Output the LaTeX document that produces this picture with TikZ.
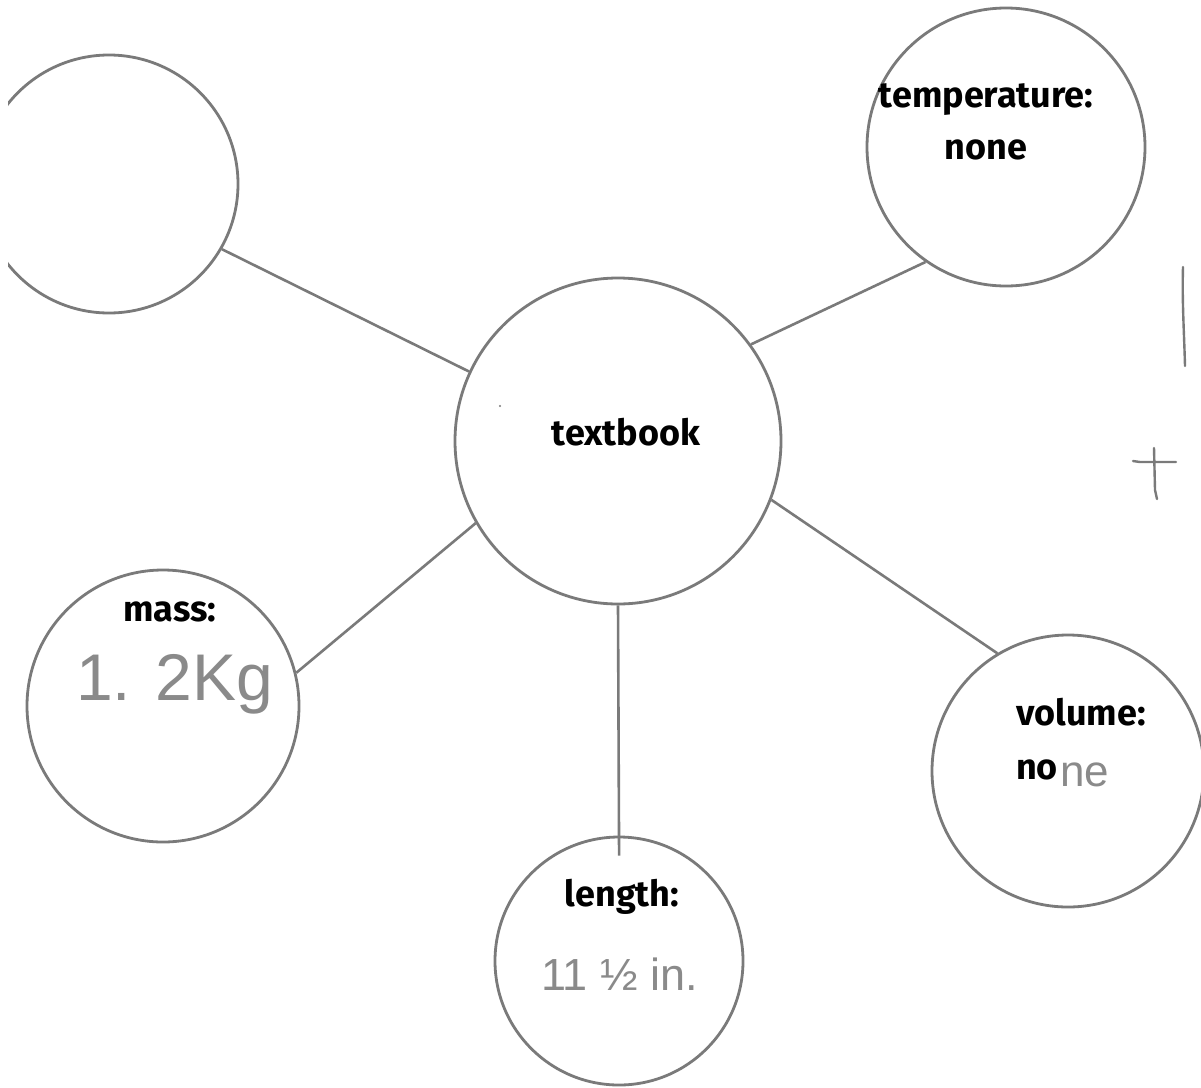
\documentclass[tikz,border=0pt]{standalone}
\usepackage{fontspec}
\setmainfont{Fira Sans}
\newfontfamily\hand{Liberation Sans}
\definecolor{ink}{HTML}{7A7A7A}
\definecolor{pencil}{HTML}{8A8A8A}
\begin{document}
\begin{tikzpicture}[x=1pt,y=-1pt,
  bub/.style={circle,draw=ink,line width=2.8pt,inner sep=0pt},
  link/.style={draw=ink,line width=2.6pt},
  stroke/.style={draw=ink,line width=2.4pt,line cap=round},
  lab/.style={font=\fontsize{36}{40}\selectfont\bfseries,text=black,inner sep=0pt},
  hw/.style={font=\hand,text=pencil,inner sep=0pt}]
\useasboundingbox (0,0) rectangle (1201,1087);
\fill[white] (0,0) rectangle (1201,1087);
\clip (8,0) rectangle (1201,1087);
% bubbles
\node[bub,minimum size=258pt] (tl) at (109,184) {};
\node[bub,minimum size=278pt] (tr) at (1006,147) {};
\node[bub,minimum size=326pt] (c) at (618,441) {};
\node[bub,minimum size=272pt] (ms) at (163,706) {};
\node[bub,minimum size=248pt] (ln) at (619,961) {};
\node[bub,minimum size=272pt] (vl) at (1068,771) {};
% connectors
\draw[link] (tl.-30.5) -- (c.155.7);
\draw[link] (c.36.3) -- (tr.235);
\draw[link] (c.210.8) -- (ms.14);
\draw[link,shorten >=-20pt] (c.270.4) -- (ln.90);
\draw[link] (c.-21.3) -- (vl.121.8);
% labels
\node[lab] (tt) at (986,100) {temperature:};
\node[lab] (tn) at (986,150) {none};
\node[lab] (tb) at (626,432) {textbook};
\node[lab] (mm) at (170,612) {mass:};
\node[hw,anchor=base west,font=\hand\fontsize{66}{72}\selectfont] (mv) at (76,700) {1. 2Kg};
\node[lab] (ll) at (622,897) {length:};
\node[hw,anchor=base west,font=\hand\fontsize{45}{50}\selectfont] (lv) at (541,990) {11 ½ in.};
\node[lab] (vv) at (1081,712) {volume:};
\node[lab,anchor=base west] (vn) at (1016,779) {no};
\node[hw,anchor=base west,font=\hand\fontsize{44}{48}\selectfont] (vn2) at (1060,786) {ne};
% stray marks
\draw[stroke] (1183,267) .. controls (1182,300) and (1184,330) .. (1185,366);
\draw[stroke] (1154,448) -- (1155,490) -- (1157,499);
\draw[stroke] (1133,461) -- (1140,462) -- (1176,462);
\fill[ink] (500,406) circle (1.2pt);
\end{tikzpicture}
\end{document}
